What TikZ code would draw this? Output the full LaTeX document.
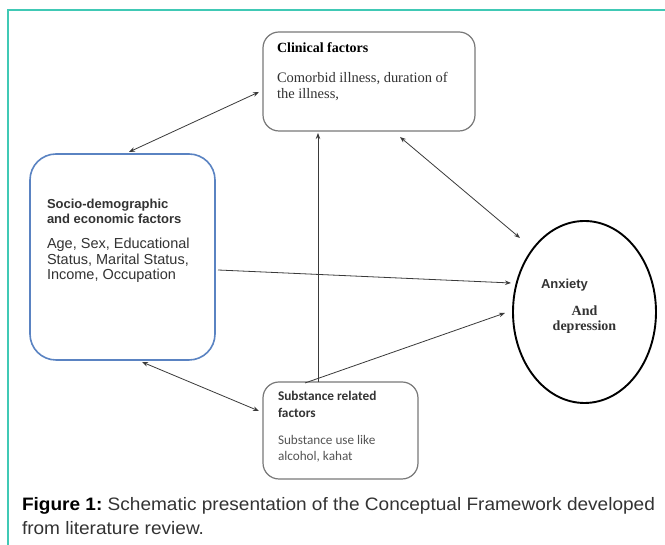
\documentclass[tikz,border=0pt]{standalone}
\usepackage{fontspec}
\setmainfont{Liberation Serif}
\newfontfamily\arialf{Liberation Sans}
\newfontfamily\calf{Carlito}
\usetikzlibrary{arrows.meta,shapes.geometric}
\definecolor{frameteal}{HTML}{40C9B5}
\definecolor{socblue}{HTML}{5A83C2}
\definecolor{boxgray}{HTML}{787878}
\definecolor{arrowgray}{HTML}{3A3A3A}
\definecolor{txtgray}{HTML}{333333}
\definecolor{subgray}{HTML}{555555}
\newsavebox\capone
\tikzset{
  graybox/.style={draw=boxgray, line width=1.2pt, rounded corners=16pt, inner sep=0pt, outer sep=0pt},
  bluebox/.style={draw=socblue, line width=1.6pt, rounded corners=26pt, inner sep=0pt, outer sep=0pt},
  conn/.style={draw=arrowgray, line width=0.8pt},
  tip/.tip={Stealth[length=6pt,width=4.5pt]},
  txt/.style={inner sep=0pt, outer sep=0pt, anchor=base west},
  framestyle/.style={draw=frameteal, line width=1.5pt}
}
\begin{document}
\sbox\capone{\arialf\fontsize{18}{20}\selectfont\textcolor{black}{\bfseries Figure 1:}\ \textcolor{txtgray}{Schematic presentation of the Conceptual Framework developed}}
\begin{tikzpicture}[x=1pt,y=1pt]
\useasboundingbox (0,0) rectangle (665,545);
\fill[white] (0,0) rectangle (665,545);
\coordinate (fbl) at (8,0);
\coordinate (ftl) at (8,535);
\coordinate (ftr) at (665,535);
\draw[framestyle] (fbl) -- (ftl) -- (ftr);
% boxes
\node[graybox, minimum width=212pt, minimum height=99pt] (clin) at (369,463.5) {};
\node[bluebox, minimum width=185pt, minimum height=206pt] (soc) at (122.5,288) {};
\node[graybox, minimum width=155pt, minimum height=97pt] (sub) at (340.5,114.5) {};
\node[draw=black, line width=1.9pt, ellipse, minimum width=143pt, minimum height=182pt, inner sep=0pt, outer sep=0pt] (anx) at (584.5,233) {};
% connectors
\draw[conn, tip-tip] ([xshift=6.5pt,yshift=2pt]soc.north) -- ([xshift=-4pt,yshift=-10.5pt]clin.west);
\draw[conn, tip-tip] ([xshift=31pt,yshift=-6pt]clin.south) -- ([xshift=-64.5pt,yshift=74pt]anx.center);
\draw[conn, -tip] ([xshift=3pt,yshift=-13pt]soc.east) -- ([xshift=-73.5pt,yshift=29pt]anx.center);
\draw[conn, -tip] ([xshift=-35.5pt,yshift=-1pt]sub.north) -- ([xshift=-79.5pt,yshift=-1pt]anx.center);
\draw[conn, -tip] ([xshift=-22.5pt]sub.north) -- ([xshift=-51pt,yshift=-2pt]clin.south);
\draw[conn, tip-tip] ([xshift=19.5pt,yshift=-2pt]soc.south) -- ([xshift=-4pt,yshift=19.5pt]sub.west);
% clinical text
\node[txt, font=\bfseries\fontsize{14}{16}\selectfont] (clinh) at (277,492) {Clinical factors};
\node[txt, font=\fontsize{14.5}{16}\selectfont, text=txtgray] (clinb1) at (277,462) {Comorbid illness, duration of};
\node[txt, font=\fontsize{14.5}{16}\selectfont, text=txtgray] (clinb2) at (277,446) {the illness,};
% socio text
\node[txt, font=\arialf\bfseries\fontsize{13}{15}\selectfont, text=txtgray] (soch1) at (47,336) {Socio-demographic};
\node[txt, font=\arialf\bfseries\fontsize{13}{15}\selectfont, text=txtgray] (soch2) at (47,321) {and economic factors};
\node[txt, font=\arialf\fontsize{14.5}{16}\selectfont, text=txtgray] (socb1) at (47,296) {Age, Sex, Educational};
\node[txt, font=\arialf\fontsize{14.5}{16}\selectfont, text=txtgray] (socb2) at (47,280.5) {Status, Marital Status,};
\node[txt, font=\arialf\fontsize{14.5}{16}\selectfont, text=txtgray] (socb3) at (47,265) {Income, Occupation};
% anxiety text
\node[txt, font=\arialf\bfseries\fontsize{13}{15}\selectfont, text=txtgray] (anx1) at (541,256) {Anxiety};
\node[inner sep=0pt, anchor=base, font=\bfseries\fontsize{14}{16}\selectfont, text=txtgray] (anx2) at (584.5,229) {And};
\node[inner sep=0pt, anchor=base, font=\bfseries\fontsize{14}{16}\selectfont, text=txtgray] (anx3) at (584.5,214) {depression};
% substance text
\node[txt, font=\calf\bfseries\fontsize{13.3}{15}\selectfont, text=txtgray] (subh1) at (278,144) {Substance related};
\node[txt, font=\calf\bfseries\fontsize{13.3}{15}\selectfont, text=txtgray] (subh2) at (278,127) {factors};
\node[txt, font=\calf\fontsize{13.2}{15}\selectfont, text=subgray] (subb1) at (278,100) {Substance use like};
\node[txt, font=\calf\fontsize{13.2}{15}\selectfont, text=subgray] (subb2) at (278,84) {alcohol, kahat};
% caption
\pgfmathsetmacro\capscale{633/\the\wd\capone}
\node[txt] (cap1) at (22,34) {\scalebox{\capscale}[1]{\usebox\capone}};
\node[txt, text=txtgray] (cap2) at (22,10) {\scalebox{\capscale}[1]{\arialf\fontsize{18}{20}\selectfont from literature review.}};
\end{tikzpicture}
\end{document}
